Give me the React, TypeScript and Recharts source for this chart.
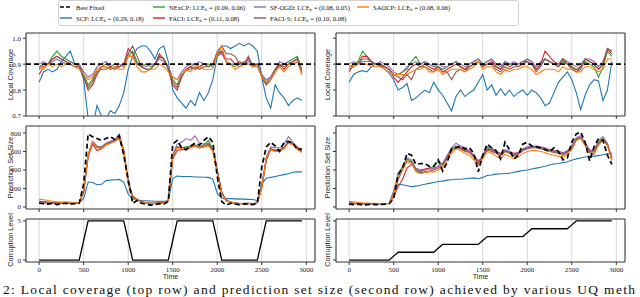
import React from 'react';
import { LineChart, Line, XAxis, YAxis, CartesianGrid, ReferenceLine, ReferenceArea } from 'recharts';

const TIME = [0,50,100,150,200,250,300,350,400,450,500,550,600,650,700,750,800,850,900,950,1000,1050,1100,1150,1200,1250,1300,1350,1400,1450,1500,1550,1600,1650,1700,1750,1800,1850,1900,1950,2000,2050,2100,2150,2200,2250,2300,2350,2400,2450,2500,2550,2600,2650,2700,2750,2800,2850,2900,2950];
const X_TICKS = [0, 500, 1000, 1500, 2000, 2500, 3000];
const COV_TICKS = [0.7, 0.8, 0.9, 1.0];
const SIZE_TICKS = [0, 200, 400, 600, 800];
const LEVEL_TICKS = [0, 5];
const TARGET = 0.9;

// Local coverage, sudden shifts (left)
const TL_SCP = [0.83,0.87,0.88,0.87,0.88,0.91,0.93,0.95,0.90,0.89, 0.84,0.69,0.66,0.74,0.70,0.69,0.72,0.71,0.74,0.79, 0.88,0.93,0.96,0.97,0.97,0.95,0.92,0.96,0.97,0.91, 0.80,0.77,0.75,0.73,0.76,0.74,0.79,0.76,0.79,0.84, 0.93,0.97,0.97,0.96,0.97,0.98,0.97,0.98,0.97,0.95, 0.85,0.77,0.73,0.82,0.79,0.77,0.74,0.76,0.77,0.76];
const TL_NEXCP = [0.89,0.90,0.90,0.93,0.95,0.93,0.92,0.91,0.90,0.90, 0.86,0.82,0.84,0.88,0.89,0.90,0.89,0.90,0.89,0.90, 0.93,0.95,0.91,0.89,0.90,0.89,0.90,0.93,0.92,0.89, 0.84,0.82,0.86,0.88,0.89,0.90,0.89,0.90,0.90,0.89, 0.93,0.95,0.91,0.90,0.89,0.90,0.91,0.90,0.89,0.90, 0.86,0.83,0.85,0.88,0.89,0.90,0.91,0.92,0.93,0.88];
const TL_FACI = [0.86,0.89,0.90,0.92,0.93,0.92,0.91,0.90,0.89,0.89, 0.85,0.80,0.82,0.86,0.89,0.89,0.88,0.89,0.89,0.90, 0.96,0.94,0.90,0.89,0.88,0.88,0.90,0.94,0.92,0.88, 0.82,0.80,0.85,0.88,0.89,0.88,0.89,0.90,0.89,0.90, 0.94,0.95,0.92,0.92,0.90,0.91,0.90,0.92,0.89,0.90, 0.85,0.82,0.84,0.87,0.90,0.88,0.90,0.91,0.92,0.86];
const TL_SFOGD = [0.90,0.91,0.90,0.91,0.92,0.91,0.90,0.91,0.90,0.90, 0.87,0.85,0.86,0.89,0.90,0.91,0.89,0.90,0.90,0.89, 0.93,0.93,0.90,0.90,0.89,0.90,0.90,0.92,0.91,0.89, 0.85,0.84,0.87,0.89,0.90,0.90,0.91,0.90,0.89,0.90, 0.93,0.94,0.91,0.90,0.90,0.89,0.90,0.91,0.90,0.90, 0.86,0.84,0.85,0.88,0.91,0.90,0.91,0.90,0.91,0.88];
const TL_FACIS = [0.88,0.90,0.90,0.92,0.93,0.92,0.91,0.90,0.89,0.89, 0.85,0.81,0.83,0.87,0.88,0.88,0.89,0.88,0.89,0.90, 0.94,0.97,0.93,0.89,0.88,0.88,0.90,0.93,0.92,0.88, 0.83,0.81,0.85,0.88,0.88,0.89,0.88,0.89,0.89,0.90, 0.95,0.97,0.94,0.94,0.93,0.90,0.90,0.93,0.89,0.90, 0.85,0.82,0.84,0.88,0.90,0.89,0.90,0.91,0.92,0.87];
const TL_SAOCP = [0.89,0.88,0.90,0.89,0.90,0.89,0.90,0.90,0.89,0.88, 0.86,0.84,0.85,0.88,0.89,0.89,0.88,0.89,0.88,0.88, 0.93,0.93,0.89,0.87,0.87,0.88,0.88,0.90,0.89,0.87, 0.85,0.84,0.86,0.88,0.87,0.89,0.89,0.88,0.88,0.88, 0.94,0.97,0.91,0.90,0.88,0.89,0.90,0.90,0.89,0.89, 0.85,0.83,0.84,0.87,0.89,0.87,0.89,0.90,0.91,0.86];

// Local coverage, gradual shifts (right)
const TR_SCP = [0.83,0.86,0.87,0.875,0.87,0.89,0.90,0.895,0.88,0.865, 0.84,0.80,0.81,0.825,0.76,0.77,0.785,0.80,0.79,0.83, 0.80,0.78,0.75,0.72,0.775,0.80,0.775,0.79,0.80,0.83, 0.86,0.80,0.82,0.78,0.805,0.78,0.80,0.775,0.79,0.80, 0.78,0.80,0.79,0.77,0.74,0.75,0.79,0.83,0.85,0.87, 0.84,0.79,0.725,0.78,0.82,0.84,0.835,0.76,0.80,0.91];
const TR_NEXCP = [0.89,0.90,0.91,0.95,0.93,0.91,0.90,0.90,0.89,0.88, 0.86,0.86,0.87,0.88,0.91,0.93,0.90,0.91,0.90,0.89, 0.89,0.88,0.89,0.90,0.91,0.89,0.88,0.90,0.91,0.92, 0.90,0.91,0.92,0.89,0.88,0.91,0.90,0.90,0.89,0.90, 0.92,0.91,0.88,0.90,0.92,0.91,0.90,0.89,0.91,0.90, 0.89,0.88,0.89,0.91,0.90,0.89,0.85,0.89,0.95,0.93];
const TR_FACI = [0.87,0.90,0.90,0.93,0.93,0.91,0.90,0.90,0.89,0.88, 0.85,0.83,0.85,0.87,0.89,0.90,0.89,0.90,0.89,0.88, 0.89,0.87,0.88,0.89,0.90,0.89,0.88,0.89,0.90,0.91, 0.89,0.90,0.91,0.89,0.88,0.90,0.89,0.90,0.90,0.91, 0.91,0.90,0.88,0.90,0.95,0.93,0.91,0.90,0.92,0.90, 0.89,0.87,0.89,0.92,0.91,0.90,0.88,0.90,0.96,0.94];
const TR_SFOGD = [0.90,0.91,0.90,0.91,0.91,0.91,0.90,0.91,0.90,0.89, 0.87,0.86,0.87,0.89,0.90,0.91,0.90,0.91,0.90,0.89, 0.90,0.89,0.89,0.90,0.91,0.90,0.89,0.90,0.91,0.92, 0.90,0.91,0.92,0.90,0.89,0.91,0.90,0.91,0.90,0.91, 0.92,0.91,0.89,0.91,0.92,0.91,0.90,0.90,0.92,0.91, 0.90,0.89,0.90,0.92,0.92,0.91,0.89,0.91,0.96,0.95];
const TR_FACIS = [0.88,0.89,0.90,0.92,0.92,0.91,0.90,0.89,0.89,0.88, 0.86,0.85,0.84,0.86,0.84,0.88,0.89,0.89,0.88,0.87, 0.89,0.87,0.87,0.84,0.87,0.88,0.87,0.89,0.90,0.91, 0.89,0.90,0.90,0.88,0.87,0.89,0.88,0.89,0.89,0.90, 0.91,0.90,0.87,0.89,0.92,0.91,0.90,0.89,0.92,0.90, 0.88,0.87,0.88,0.92,0.91,0.90,0.88,0.90,0.96,0.95];
const TR_SAOCP = [0.89,0.89,0.90,0.90,0.90,0.89,0.89,0.89,0.88,0.87, 0.86,0.86,0.86,0.86,0.87,0.88,0.88,0.89,0.87,0.87, 0.88,0.86,0.87,0.88,0.88,0.88,0.87,0.88,0.89,0.91, 0.88,0.89,0.89,0.87,0.86,0.88,0.87,0.88,0.88,0.89, 0.89,0.88,0.86,0.87,0.88,0.88,0.88,0.87,0.89,0.88, 0.88,0.87,0.87,0.89,0.89,0.88,0.87,0.88,0.92,0.92];

// Prediction set size, sudden shifts (left)
const ML_BF = [40,35,30,40,25,35,40,30,35,40, 250,790,760,740,720,740,760,730,770,560, 300,40,70,40,30,20,25,35,30,60, 680,720,640,620,660,690,670,720,760,700, 330,60,20,40,30,25,35,30,25,40, 430,650,700,660,600,700,710,690,620,630];
const ML_SCP = [50,45,42,45,48,50,52,50,48,50, 90,270,265,240,245,285,290,295,298,270, 140,85,75,70,68,65,62,62,60,65, 310,335,330,330,330,325,325,322,320,300, 150,95,90,90,88,85,85,82,80,70, 250,310,320,330,340,350,360,375,380,380];
const ML_NEXCP = [50,45,45,40,40,38,40,38,40,42, 170,560,700,650,650,680,700,720,740,600, 260,110,75,55,45,40,40,45,48,70, 560,650,640,650,660,670,650,670,720,630, 390,150,70,50,42,38,38,40,32,48, 220,520,630,600,610,640,710,690,630,600];
const ML_FACI = [60,55,50,45,45,42,42,40,42,45, 160,540,680,610,630,670,690,710,740,620, 280,120,80,55,45,38,36,40,45,65, 520,610,620,620,640,660,640,650,670,620, 400,160,75,52,42,36,35,38,30,45, 200,500,620,610,620,640,700,680,640,610];
const ML_SFOGD = [55,50,45,42,42,40,40,38,40,42, 180,570,710,660,650,690,710,730,790,610, 260,100,75,55,44,40,40,44,48,72, 570,680,700,740,720,770,690,680,690,630, 380,140,68,50,42,38,38,40,32,50, 230,540,650,640,640,680,760,700,650,610];
const ML_FACIS = [60,55,50,45,42,40,40,38,40,44, 170,550,700,640,640,680,700,720,760,610, 270,115,78,56,46,40,40,44,48,70, 540,650,640,640,650,670,650,660,680,620, 390,155,72,52,42,37,36,40,31,48, 215,515,630,615,615,645,710,685,635,600];
const ML_SAOCP = [85,78,70,62,55,50,48,45,44,44, 190,560,700,640,630,670,690,710,750,590, 250,100,70,52,44,40,40,42,46,68, 550,640,630,630,640,660,640,650,660,600, 370,140,65,48,40,36,36,38,30,46, 210,520,620,600,600,630,690,670,620,590];

// Prediction set size, gradual shifts (right)
const MR_BF = [30,25,30,20,25,30,25,28,30,35, 90,350,420,580,560,460,470,470,440,440, 510,390,480,630,640,660,630,640,580,380, 560,680,640,610,520,700,620,520,560,680, 700,660,650,640,620,600,640,600,510,530, 700,790,810,700,500,650,740,720,560,460];
const MR_SCP = [40,38,35,35,34,33,33,35,35,38, 170,245,240,230,220,225,235,245,255,265, 275,280,290,295,300,300,305,310,315,305, 320,340,345,355,360,360,365,375,385,395, 400,410,420,430,440,455,465,470,480,490, 505,520,530,540,545,550,555,565,575,580];
const MR_NEXCP = [40,38,36,38,35,36,35,38,36,40, 150,360,430,520,490,400,380,400,420,440, 500,460,530,620,660,640,610,600,550,470, 550,640,620,590,560,610,590,560,580,620, 640,650,650,640,630,610,600,590,570,600, 650,740,750,680,600,610,700,740,680,520];
const MR_FACI = [45,40,38,36,35,34,35,36,36,38, 110,220,300,420,460,420,400,410,420,420, 440,470,540,610,650,640,620,600,560,500, 540,620,620,600,580,600,600,580,590,610, 640,650,650,640,635,620,610,600,590,600, 640,720,750,690,620,600,680,720,680,530];
const MR_SFOGD = [40,38,36,35,34,35,36,35,36,40, 160,360,440,530,510,410,390,400,410,410, 440,470,560,640,690,660,640,610,560,480, 560,650,640,600,570,620,600,570,590,630, 650,660,660,650,640,620,610,600,580,610, 660,750,770,690,610,600,720,760,690,520];
const MR_FACIS = [45,40,38,36,35,35,35,36,36,40, 130,300,400,500,490,390,370,380,390,400, 420,450,530,610,650,630,600,590,540,470, 530,620,600,580,550,600,580,550,570,610, 630,640,640,630,620,600,590,580,560,590, 640,730,750,670,590,580,690,730,670,510];
const MR_SAOCP = [60,55,50,45,42,40,40,38,38,40, 140,330,400,490,470,380,360,370,380,380, 400,430,500,580,630,610,580,560,510,450, 520,600,580,550,520,570,550,520,540,580, 600,610,610,600,590,570,560,550,540,570, 620,720,740,660,580,570,670,720,660,500];

// Corruption level
const BL_LEVEL = [0,0,0,0,0,0,0,0,0,0, 2.5,5,5,5,5,5,5,5,5,5, 2.5,0,0,0,0,0,0,0,0,0, 2.5,5,5,5,5,5,5,5,5,5, 2.5,0,0,0,0,0,0,0,0,0, 2.5,5,5,5,5,5,5,5,5,5];
const BR_LEVEL = [0,0,0,0,0,0,0,0,0,0, 0.5,1,1,1,1,1,1,1,1,1, 1.5,2,2,2,2,2,2,2,2,2, 2.5,3,3,3,3,3,3,3,3,3, 3.5,4,4,4,4,4,4,4,4,4, 4.5,5,5,5,5,5,5,5,5,5];

const COLORS: Record<string, string> = {
  bf: '#000000', scp: '#1f77b4', nexcp: '#2ca02c', faci: '#d62728',
  sfogd: '#9467bd', facis: '#8c564b', saocp: '#ff7f0e', level: '#000000',
};

const LEGEND = [
  { key: 'bf', label: 'Best Fixed', lce: '', col: 60, row: 0 },
  { key: 'scp', label: 'SCP: LCE', lce: ' = (0.29, 0.18)', col: 60, row: 1 },
  { key: 'nexcp', label: 'NExCP: LCE', lce: ' = (0.09, 0.06)', col: 153, row: 0 },
  { key: 'faci', label: 'FACI: LCE', lce: ' = (0.11, 0.08)', col: 153, row: 1 },
  { key: 'sfogd', label: 'SF-OGD: LCE', lce: ' = (0.08, 0.05)', col: 254, row: 0 },
  { key: 'facis', label: 'FACI-S: LCE', lce: ' = (0.10, 0.08)', col: 254, row: 1 },
  { key: 'saocp', label: 'SAOCP: LCE', lce: ' = (0.08, 0.06)', col: 357, row: 0 },
];

const SERIF = '"Liberation Serif", "DejaVu Serif", serif';
const SANS = '"Liberation Sans", "DejaVu Sans", sans-serif';
const X_DOMAIN: [number, number] = [-147.5, 3097.5];

function rows(series: Record<string, number[]>) {
  return TIME.map((t, i) => {
    const r: Record<string, number> = { t };
    Object.keys(series).forEach((k) => { r[k] = series[k][i]; });
    return r;
  });
}

const ORDER = ['scp', 'nexcp', 'faci', 'sfogd', 'facis', 'saocp', 'bf', 'level'];

type PanelProps = {
  x: number; y: number; w: number; h: number;
  series: Record<string, number[]>;
  domain: [number, number]; yTicks: number[];
  yFmt: (v: number) => string;
  showYLabels: boolean; showXLabels: boolean; target?: boolean;
};

function Panel({ x, y, w, h, series, domain, yTicks, yFmt, showYLabels, showXLabels, target }: PanelProps) {
  const xAxisH = showXLabels ? 16 : 6;
  const data = rows(series);
  const keys = ORDER.filter((k) => series[k]);
  const tickStyle = { fontSize: 7, fill: '#222', fontFamily: SERIF };
  return (
    <div style={{ position: 'absolute', left: x - 26, top: y - 4 }}>
      <LineChart width={w + 30} height={h + 4 + xAxisH} data={data} margin={{ top: 4, right: 4, left: 0, bottom: 0 }}>
        <CartesianGrid horizontal={false} vertical stroke="#d8d8d8" strokeWidth={1} />
        <XAxis type="number" dataKey="t" domain={X_DOMAIN} ticks={X_TICKS} interval={0} allowDataOverflow
          height={xAxisH} axisLine={false} tickLine={{ stroke: '#333' }} tickSize={3} tickMargin={2}
          tick={tickStyle} tickFormatter={(v: number) => (showXLabels ? String(v) : '')} />
        <YAxis type="number" domain={domain} ticks={yTicks} interval={0} allowDataOverflow width={26}
          axisLine={false} tickLine={{ stroke: '#333' }} tickSize={3} tickMargin={2}
          tick={tickStyle} tickFormatter={(v: number) => (showYLabels ? yFmt(v) : '')} />
        {keys.map((k) => (
          <Line key={k} type="linear" dataKey={k} stroke={COLORS[k]} dot={false} isAnimationActive={false}
            strokeWidth={k === 'bf' ? 1.7 : k === 'level' ? 1.3 : 1.1}
            strokeDasharray={k === 'bf' ? '5 3' : undefined} />
        ))}
        {target && <ReferenceLine y={TARGET} stroke="#000" strokeWidth={1.7} strokeDasharray="5 3" />}
        <ReferenceArea x1={X_DOMAIN[0]} x2={X_DOMAIN[1]} y1={domain[0]} y2={domain[1]} fill="none"
          fillOpacity={0} stroke="#333" strokeWidth={1} ifOverflow="visible" />
      </LineChart>
    </div>
  );
}

const fmt1 = (v: number) => v.toFixed(1);
const fmt0 = (v: number) => String(v);

export default function App() {
  const COV_DOMAIN: [number, number] = [0.7, 1.02];
  const SIZE_DOMAIN: [number, number] = [-22, 876];
  const LEVEL_DOMAIN: [number, number] = [-0.25, 5.25];
  const yLabels = [
    { x: 10, y: 74.5, t: 'Local Coverage' }, { x: 327, y: 74.5, t: 'Local Coverage' },
    { x: 10, y: 167.5, t: 'Prediction Set Size' }, { x: 327, y: 167.5, t: 'Prediction Set Size' },
    { x: 10, y: 240, t: 'Corruption Level' }, { x: 327, y: 240, t: 'Corruption Level' },
  ];
  return (
    <div style={{ position: 'absolute', left: 0, top: 0, width: 640, height: 297, background: '#fff', overflow: 'hidden' }}>
      <Panel x={26} y={33} w={289} h={83} domain={COV_DOMAIN} yTicks={COV_TICKS} yFmt={fmt1} showYLabels showXLabels={false} target
        series={{ scp: TL_SCP, nexcp: TL_NEXCP, faci: TL_FACI, sfogd: TL_SFOGD, facis: TL_FACIS, saocp: TL_SAOCP }} />
      <Panel x={336} y={33} w={289} h={83} domain={COV_DOMAIN} yTicks={COV_TICKS} yFmt={fmt1} showYLabels={false} showXLabels={false} target
        series={{ scp: TR_SCP, nexcp: TR_NEXCP, faci: TR_FACI, sfogd: TR_SFOGD, facis: TR_FACIS, saocp: TR_SAOCP }} />
      <Panel x={26} y={126} w={289} h={83} domain={SIZE_DOMAIN} yTicks={SIZE_TICKS} yFmt={fmt0} showYLabels showXLabels={false}
        series={{ scp: ML_SCP, nexcp: ML_NEXCP, faci: ML_FACI, sfogd: ML_SFOGD, facis: ML_FACIS, saocp: ML_SAOCP, bf: ML_BF }} />
      <Panel x={336} y={126} w={289} h={83} domain={SIZE_DOMAIN} yTicks={SIZE_TICKS} yFmt={fmt0} showYLabels={false} showXLabels={false}
        series={{ scp: MR_SCP, nexcp: MR_NEXCP, faci: MR_FACI, sfogd: MR_SFOGD, facis: MR_FACIS, saocp: MR_SAOCP, bf: MR_BF }} />
      <Panel x={26} y={219} w={289} h={43} domain={LEVEL_DOMAIN} yTicks={LEVEL_TICKS} yFmt={fmt0} showYLabels showXLabels
        series={{ level: BL_LEVEL }} />
      <Panel x={336} y={219} w={289} h={43} domain={LEVEL_DOMAIN} yTicks={LEVEL_TICKS} yFmt={fmt0} showYLabels={false} showXLabels
        series={{ level: BR_LEVEL }} />
      <svg width={640} height={297} style={{ position: 'absolute', left: 0, top: 0, pointerEvents: 'none' }}>
        <rect x={58.5} y={0.5} width={460} height={25} rx={2} fill="#fff" stroke="#d0d0d0" strokeWidth={1} />
        {LEGEND.map((e) => {
          const cy = e.row === 0 ? 7 : 18;
          return (
            <g key={e.key}>
              <line x1={e.col} x2={e.col + 12} y1={cy} y2={cy} stroke={COLORS[e.key]}
                strokeWidth={e.key === 'bf' ? 1.7 : 1.4} strokeDasharray={e.key === 'bf' ? '4 2' : undefined} />
              <text x={e.col + 16} y={cy} dominantBaseline="central" fontSize={6.6} fontFamily={SERIF} fill="#111">
                {e.label}
                {e.lce && <tspan fontSize={4.6} dy={1.6}>k</tspan>}
                {e.lce && <tspan dy={-1.6}>{e.lce}</tspan>}
              </text>
            </g>
          );
        })}
        {yLabels.map((l, i) => (
          <text key={i} x={l.x} y={l.y} transform={`rotate(-90, ${l.x}, ${l.y})`} textAnchor="middle"
            dominantBaseline="central" fontSize={7.3} fontFamily={SANS} fill="#222">{l.t}</text>
        ))}
        <text x={170.5} y={276.5} textAnchor="middle" dominantBaseline="central" fontSize={7} fontFamily={SANS} fill="#222">Time</text>
        <text x={480.5} y={276.5} textAnchor="middle" dominantBaseline="central" fontSize={7} fontFamily={SANS} fill="#222">Time</text>
        <text x={3} y={293.5} fontSize={13.5} fontFamily={SERIF} fill="#111" textLength={632} lengthAdjust="spacing">
          2: Local coverage (top row) and prediction set size (second row) achieved by various UQ meth
        </text>
      </svg>
    </div>
  );
}
